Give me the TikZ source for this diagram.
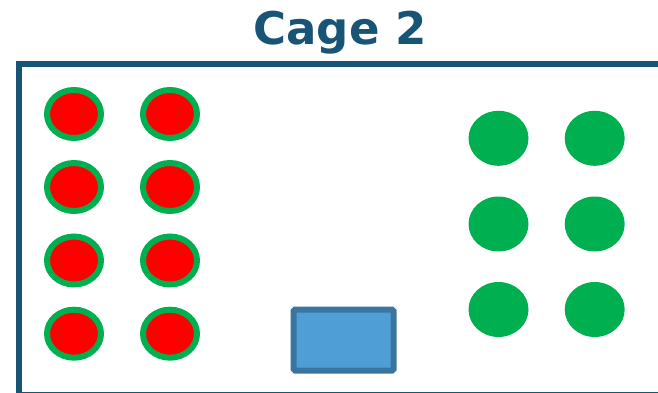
\documentclass[tikz,border=0pt]{standalone}
\usepackage{fontspec}
\newfontfamily\titlefont{DejaVu Sans}
\usepackage{tikz}
\usetikzlibrary{shapes.geometric,positioning}
\usepackage{xcolor}
\definecolor{cageblue}{RGB}{24,84,117}
\definecolor{micegreen}{RGB}{0,176,80}
\definecolor{micered}{RGB}{255,0,0}
\definecolor{boxfill}{RGB}{80,158,214}
\definecolor{boxline}{RGB}{58,117,160}

\begin{document}
\begin{tikzpicture}[
    x=1pt, y=-1pt,
    cagewall/.style={draw=cageblue, line width=6pt},
    sick/.style={ellipse, draw=micegreen, fill=micered, line width=6pt,
        minimum width=54pt, minimum height=48pt, inner sep=0pt},
    healthy/.style={ellipse, fill=micegreen,
        minimum width=60pt, minimum height=55pt, inner sep=0pt},
    feeder/.style={rectangle, draw=boxline, fill=boxfill, line width=6pt,
        rounded corners=1.5pt, minimum width=100pt, minimum height=61pt}
]
    \useasboundingbox (0,0) rectangle (658,393);
    \clip (0,0) rectangle (658,393);

    \node[anchor=base, text=cageblue, font=\titlefont\bfseries\fontsize{45}{54}\selectfont]
        (title) at (340,45) {Cage 2};
    \draw[cagewall] (19,64.5) rectangle (690,395);

    % infected mice, left
    \node[sick] (s1) at (74,114) {};
    \node[sick] (s2) at (170,114) {};
    \node[sick] (s3) at (74,187) {};
    \node[sick] (s4) at (170,187) {};
    \node[sick] (s5) at (74,260.5) {};
    \node[sick] (s6) at (170,260.5) {};
    \node[sick] (s7) at (74,333.7) {};
    \node[sick] (s8) at (170,333.7) {};

    % healthy mice, right
    \node[healthy] (h1) at (498.5,138.3) {};
    \node[healthy] (h2) at (594.7,138.3) {};
    \node[healthy] (h3) at (498.5,224) {};
    \node[healthy] (h4) at (594.7,224) {};
    \node[healthy] (h5) at (498.5,309.5) {};
    \node[healthy] (h6) at (594.7,309.5) {};

    \node[feeder] (food) at (343.5,340) {};
\end{tikzpicture}
\end{document}
